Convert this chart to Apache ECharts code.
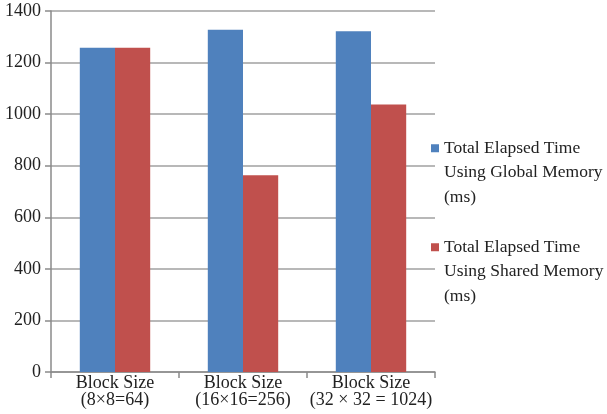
<!DOCTYPE html>
<html><head><meta charset="utf-8">
<script src="https://cdn.jsdelivr.net/npm/echarts@6/dist/echarts.min.js"></script>
<style>html,body{margin:0;padding:0;background:#fff}#c{width:607px;height:414px}</style>
</head><body><div id="c"></div>
<script>
const categories = ['Block Size\n(8×8=64)', 'Block Size\n(16×16=256)', 'Block Size\n(32 × 32 = 1024)'];
const globalMem = [1257, 1327, 1321];
const sharedMem = [1257, 763, 1037];
const seriesNames = ['Total Elapsed Time\nUsing Global Memory\n(ms)', 'Total Elapsed Time\nUsing Shared Memory\n(ms)'];
const yTicks = {min: 0, max: 1400, interval: 200};

const font = '"Liberation Serif", "DejaVu Serif", serif';
const chart = echarts.init(document.getElementById('c'));
const legendText = {fontFamily: font, fontSize: 17.5, color: '#222', lineHeight: 24.5};
const legendFmt = n => '\n\n' + n;
chart.setOption({
  animation: false,
  textStyle: {fontFamily: font},
  grid: {left: 51, right: 172, top: 11, bottom: 42},
  legend: [
    {data: [seriesNames[0]], left: 431, top: 87, padding: 0, orient: 'vertical', icon: 'rect', itemWidth: 8, itemHeight: 8, textStyle: legendText, formatter: legendFmt},
    {data: [seriesNames[1]], left: 431, top: 186, padding: 0, orient: 'vertical', icon: 'rect', itemWidth: 8, itemHeight: 8, textStyle: legendText, formatter: legendFmt}
  ],
  xAxis: {
    type: 'category', data: categories,
    axisLine: {lineStyle: {color: '#8a8a8a', width: 1.5}},
    axisTick: {show: true, length: 6, lineStyle: {color: '#8a8a8a', width: 1.5}},
    axisLabel: {fontFamily: font, fontSize: 18, color: '#222', lineHeight: 17, margin: 3, interval: 0}
  },
  yAxis: {
    type: 'value', min: yTicks.min, max: yTicks.max, interval: yTicks.interval,
    axisLine: {show: true, lineStyle: {color: '#8a8a8a', width: 1.5}},
    axisTick: {show: true, length: 6, lineStyle: {color: '#8a8a8a', width: 1.5}},
    axisLabel: {fontFamily: font, fontSize: 18, color: '#222', margin: 10, formatter: v => String(v)},
    splitLine: {lineStyle: {color: '#a0a0a0', width: 1.5}}
  },
  series: [
    {name: seriesNames[0], type: 'bar', data: globalMem, itemStyle: {color: '#4F81BD'}, barGap: '0%', barCategoryGap: '45%'},
    {name: seriesNames[1], type: 'bar', data: sharedMem, itemStyle: {color: '#C0504D'}, barGap: '0%', barCategoryGap: '45%'}
  ]
});
</script></body></html>
